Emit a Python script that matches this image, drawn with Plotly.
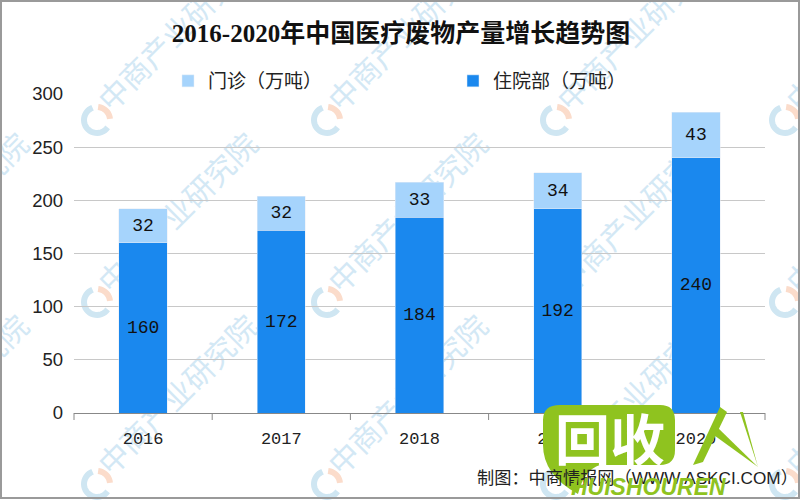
import math
import plotly.graph_objects as go

years = ["2016", "2017", "2018", "2019", "2020"]
inpatient = [160, 172, 184, 192, 240]
outpatient = [32, 32, 33, 34, 43]
title_text = "2016-2020年中国医疗废物产量增长趋势图"
source_text = "制图：中商情报网（WWW.ASKCI.COM）"
watermark_text = "中商产业研究院"
CJK = "Noto Sans CJK SC"

L, R, T, B = 74, 35, 94, 87
W, H = 800, 500
def px(x): return (x - L) / (W - L - R)
def py(y): return (H - B - y) / (H - T - B)

def arc(cx, cy, r, a0, a1, n=24):
    pts = []
    for i in range(n + 1):
        a = math.radians(a0 + (a1 - a0) * i / n)
        pts.append(f"{'M' if i == 0 else 'L'} {px(cx + r * math.cos(a)):.5f},{py(cy + r * math.sin(a)):.5f}")
    return " ".join(pts)

fig = go.Figure()
label_font = dict(family="Liberation Mono", color="#111111", size=18)
fig.add_bar(name="住院部（万吨）", x=years, y=inpatient, marker_color="#1A88EE",
            text=inpatient, textposition="inside", insidetextanchor="middle",
            textfont=label_font, constraintext="none", textangle=0)
fig.add_bar(name="门诊（万吨）", x=years, y=outpatient, marker_color="#A6D4FC",
            text=outpatient, textposition="inside", insidetextanchor="middle",
            textfont=label_font, constraintext="none", textangle=0)

shapes = []
ann = []
# watermark lies beneath the bars
for cy in (120, 302, 484):
    for cx in (-132, 97, 327, 556, 785):
        shapes.append(dict(type="path", xref="paper", yref="paper", layer="below",
                           path=arc(cx, cy, 13, 35, 250), line=dict(color="#CFE6F2", width=6)))
        shapes.append(dict(type="path", xref="paper", yref="paper", layer="below",
                           path=arc(cx, cy, 13, 275, 355, 12), line=dict(color="#FBDCCB", width=6)))
        tx, ty = cx + 83, cy - 87
        shapes.append(dict(type="rect", xref="paper", yref="paper", layer="below",
                           x0=px(tx - 2), x1=px(tx + 2), y0=py(ty + 2), y1=py(ty - 2),
                           line=dict(width=0), fillcolor="rgba(0,0,0,0)",
                           label=dict(text=watermark_text, textangle=-45, textposition="middle center",
                                      font=dict(family=CJK, size=30, color="#D3E8F5"))))
# frame
shapes.append(dict(type="rect", xref="paper", yref="paper", x0=px(1), x1=px(799),
                   y0=py(498), y1=py(1), line=dict(color="#9a9a9a", width=2)))
# x-axis ticks
step = (W - L - R) / len(years)
for i in range(len(years) + 1):
    shapes.append(dict(type="line", xref="paper", yref="paper", x0=px(L + i * step), x1=px(L + i * step),
                       y0=py(413), y1=py(420), line=dict(color="#888888", width=1)))

# logo
def conv(path):
    out = []
    toks = path.split()
    i = 0
    while i < len(toks):
        t = toks[i]
        if t in "MLQZ":
            out.append(t); i += 1
        else:
            out.append(f"{px(float(t)):.5f},{py(float(toks[i+1])):.5f}"); i += 2
    return " ".join(out)
for p in (
    "M 560 405 L 660 405 Q 675 405 675 420 L 675 450 Q 675 465 660 465 "
    "L 600 465 Q 584 470 578 494 Q 543 475 543 445 L 543 420 Q 543 405 560 405 Z",
    "M 693 465 L 720 407 L 727 412 L 703 462 Z",
    "M 711 433 L 716 426 L 758 467 Z",
    "M 740 412 L 743 412 L 758 467 Z",
):
    shapes.append(dict(type="path", xref="paper", yref="paper", path=conv(p),
                       fillcolor="#8FC31F", line=dict(width=0)))

ann += [
    dict(text=source_text, xref="paper", yref="paper", x=px(475), y=py(478), xanchor="left", yanchor="middle",
         showarrow=False, font=dict(family="Liberation Sans, " + CJK, size=17.2, color="#222222")),
    dict(text="<b>回收</b>", xref="paper", yref="paper", x=px(610), y=py(436), xanchor="center", yanchor="middle",
         showarrow=False, font=dict(family=CJK, size=55, color="white")),
    dict(text="<b><i>HUISHOUREN</i></b>", xref="paper", yref="paper", x=px(648), y=py(487), xanchor="center",
         yanchor="middle", showarrow=False, font=dict(family="Liberation Sans", size=23, color="#8FC31F")),
]

fig.update_layout(
    width=W, height=H, autosize=False, barmode="stack", bargap=0.65,
    margin=dict(l=L, r=R, t=T, b=B), paper_bgcolor="white", plot_bgcolor="rgba(0,0,0,0)",
    font=dict(family="Liberation Sans, " + CJK, color="#222222", size=16),
    title=dict(text="<b>" + title_text + "</b>", x=px(401), xref="paper", xanchor="center", y=1 - 33 / H, yanchor="middle",
               font=dict(family="Liberation Serif, " + CJK, size=25, color="#111111")),
    legend=dict(orientation="h", x=px(168), xanchor="left", y=py(81), yanchor="middle",
                traceorder="reversed", entrywidth=240, entrywidthmode="pixels",
                font=dict(family=CJK, size=19, color="#222222"), itemwidth=30,
                bgcolor="rgba(0,0,0,0)"),
    xaxis=dict(showline=True, linecolor="#888888", linewidth=1, ticks="",
               tickfont=dict(size=17, family="Liberation Mono"), showgrid=False, ticklabelstandoff=10),
    yaxis=dict(range=[0, 300], dtick=50, gridcolor="#C8C8C8", gridwidth=1, zeroline=False,
               tickfont=dict(size=18.5, family="Liberation Sans"), ticks="", ticklabelstandoff=10, showline=False),
    shapes=shapes, annotations=ann,
)
fig.write_html("out.html", config={"displayModeBar": False},
               post_script="document.body.style.margin='0';document.body.style.overflow='hidden';")
